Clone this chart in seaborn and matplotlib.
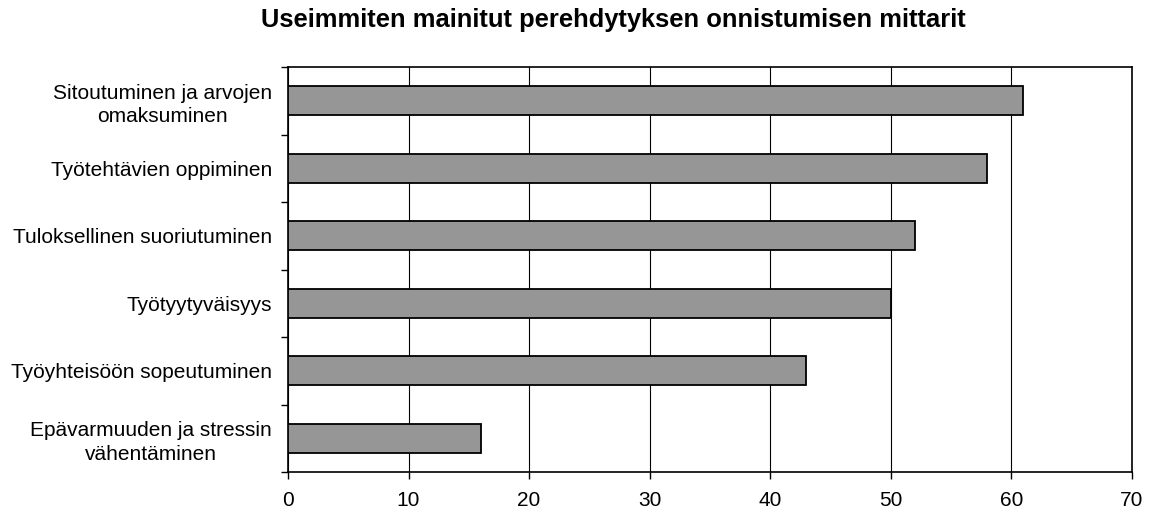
import numpy as np
import pandas as pd
import matplotlib
matplotlib.use("Agg")
import matplotlib.pyplot as plt
import seaborn as sns

categories = [
    "Sitoutuminen ja arvojen\nomaksuminen",
    "Työtehtävien oppiminen",
    "Tuloksellinen suoriutuminen",
    "Työtyytyväisyys",
    "Työyhteisöön sopeutuminen",
    "Epävarmuuden ja stressin\nvähentäminen",
]
values = [61, 58, 52, 50, 43, 16]
x_ticks = [0, 10, 20, 30, 40, 50, 60, 70]
title = "Useimmiten mainitut perehdytyksen onnistumisen mittarit"

sns.set_style("white")
plt.rcParams["font.family"] = ["Liberation Sans", "DejaVu Sans"]
plt.rcParams["text.color"] = "black"
plt.rcParams["xtick.color"] = "black"
plt.rcParams["ytick.color"] = "black"

df = pd.DataFrame({"mittari": categories, "arvo": values})

fig = plt.figure(figsize=(11.5, 5.12), dpi=100)
ax = fig.add_axes([0.2504, 0.0781, 0.9843 - 0.2504, 0.8691 - 0.0781])

sns.barplot(data=df, x="arvo", y="mittari", orient="h", color="#969696",
            saturation=1, width=0.43, edgecolor="black", linewidth=1.3, ax=ax,
            zorder=3)

ax.set_xlim(0, 70)
ax.set_ylim(5.5, -0.5)
ax.set_xticks(x_ticks)
ax.set_xticklabels([str(t) for t in x_ticks])
ax.xaxis.grid(True, color="black", linewidth=0.8, zorder=0)
ax.yaxis.grid(False)
ax.set_axisbelow(True)
ax.set_xlabel("")
ax.set_ylabel("")

# tick marks on the y axis sit between the categories
ax.set_yticks(np.arange(-0.5, 6, 1), minor=True)
ax.tick_params(axis="y", which="major", length=0, pad=11.5, labelsize=15,
               labelcolor="black")
ax.tick_params(axis="y", which="minor", length=5, width=1, color="black", left=True)
ax.tick_params(axis="x", which="major", length=5, width=1, color="black",
               bottom=True, direction="out", pad=9, labelsize=15,
               labelcolor="black")
for lbl in ax.get_yticklabels():
    lbl.set_multialignment("center")
    lbl.set_linespacing(1.3)

for side in ["top", "right", "bottom", "left"]:
    ax.spines[side].set_visible(True)
    ax.spines[side].set_color("black")
    ax.spines[side].set_linewidth(1.2)

fig.suptitle(title, fontsize=18.4, fontweight="bold", x=0.533, y=0.985,
             va="top", color="black")

fig.savefig("out.png", dpi=100, facecolor="white")
